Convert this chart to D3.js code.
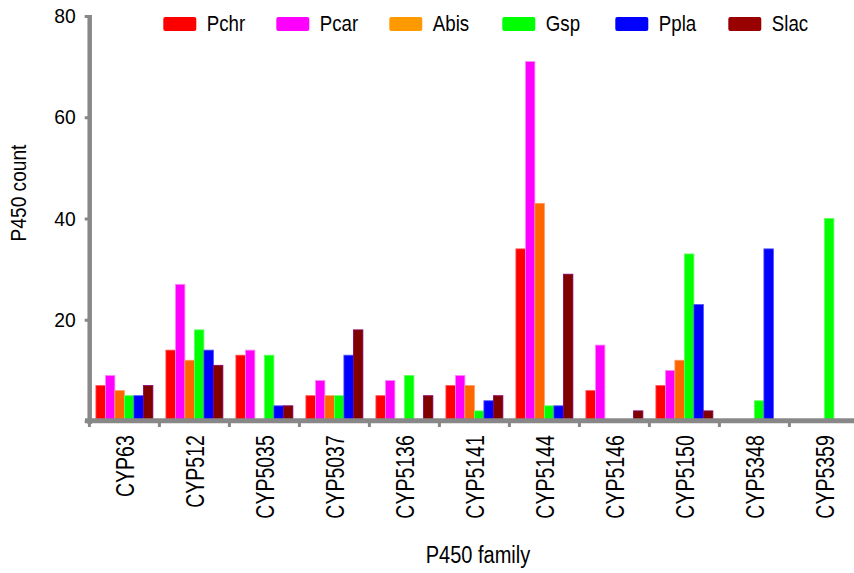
<!DOCTYPE html>
<html>
<head>
<meta charset="utf-8">
<script src="https://cdn.jsdelivr.net/npm/d3@7"></script>
<style>
  html, body { margin: 0; padding: 0; background: #fff; }
  svg { display: block; }
  text { font-family: "Liberation Sans", Arial, sans-serif; fill: #000; }
</style>
</head>
<body>
<script>
const categories = ["CYP63","CYP512","CYP5035","CYP5037","CYP5136","CYP5141","CYP5144","CYP5146","CYP5150","CYP5348","CYP5359"];
const seriesNames = ["Pchr","Pcar","Abis","Gsp","Ppla","Slac"];
const Pchr = [7,14,13,5,5,7,34,6,7,0,0];
const Pcar = [9,27,14,8,8,9,71,15,10,0,0];
const Abis = [6,12,0,5,0,7,43,0,12,0,0];
const Gsp  = [5,18,13,5,9,2,3,0,33,4,40];
const Ppla = [5,14,3,13,0,4,3,0,23,34,0];
const Slac = [7,11,3,18,5,5,29,2,2,0,0];
const yTicks = [0,20,40,60,80];
const yTickLabels = ["","20","40","60","80"];
const barColors    = ["#ff0000","#ff00ff","#ff6600","#00ff00","#0000ff","#800000"];
const barStrokes   = ["#ff5050","#ff88ff","#ff9a60","#60ff60","#5050ff","#880070"];
const legendColors = ["#ff0000","#ff00ff","#ff9900","#00ff00","#0000ff","#990000"];
const yTitle = "P450 count";
const xTitle = "P450 family";

const values = [Pchr, Pcar, Abis, Gsp, Ppla, Slac];

const W = 854, H = 573;
const svg = d3.select("body").append("svg").attr("width", W).attr("height", H);
svg.append("rect").attr("width", W).attr("height", H).attr("fill", "#fff");

const x0 = d3.scaleBand().domain(categories).range([89.4, 89.4 + 70 * categories.length]).padding(0);
const bw = x0.bandwidth();
const x1 = d3.scaleBand().domain(seriesNames).range([bw * 0.093, bw * 0.907]).padding(0);
const y = d3.scaleLinear().domain([0, 80]).range([421, 16]);

const grey = "#888888";

// bars
const groups = svg.append("g").selectAll("g").data(categories).join("g")
  .attr("transform", d => `translate(${x0(d)},0)`);
groups.selectAll("rect")
  .data((c, i) => seriesNames.map((s, k) => ({ s, k, v: values[k][i] })).filter(d => d.v > 0))
  .join("rect")
  .attr("x", d => x1(d.s))
  .attr("width", x1.bandwidth())
  .attr("y", d => y(d.v))
  .attr("height", d => y(0) - y(d.v))
  .attr("fill", d => barColors[d.k])
  .attr("stroke", d => barStrokes[d.k])
  .attr("stroke-width", 0.8);

// y axis
const yAxis = svg.append("g").attr("transform", "translate(89.7,0)")
  .call(d3.axisLeft(y).tickValues(yTicks).tickFormat((d, i) => yTickLabels[i]).tickSize(5).tickPadding(0));
yAxis.select(".domain").remove();
yAxis.selectAll(".tick line").attr("stroke", grey).attr("stroke-width", 3);
yAxis.selectAll(".tick text").attr("font-size", 21)
  .attr("x", null).attr("dy", null)
  .attr("transform", "translate(-14,6.5) scale(0.92,1)");
svg.append("line").attr("x1", 89.7).attr("x2", 89.7).attr("y1", 15).attr("y2", 424)
  .attr("stroke", grey).attr("stroke-width", 4.5);

// x axis
const xAxis = svg.append("g").attr("transform", "translate(0,420.7)")
  .call(d3.axisBottom(x0).tickSize(0).tickPadding(0));
xAxis.select(".domain").remove();
xAxis.selectAll(".tick text")
  .attr("font-size", 25)
  .attr("text-anchor", "end")
  .attr("transform", "translate(9.5,14.5) rotate(-90) scale(0.78,1)")
  .attr("dy", 0).attr("y", 0).attr("x", 0);
svg.append("g").selectAll("line").data(categories).join("line")
  .attr("x1", d => x0(d)).attr("x2", d => x0(d))
  .attr("y1", 421).attr("y2", 427)
  .attr("stroke", grey).attr("stroke-width", 3);
svg.append("line").attr("x1", 85).attr("x2", W).attr("y1", 420.7).attr("y2", 420.7)
  .attr("stroke", grey).attr("stroke-width", 5);

// titles
svg.append("text").attr("transform", "translate(26,193) rotate(-90) scale(0.87,1)")
  .attr("text-anchor", "middle").attr("font-size", 22).text(yTitle);
svg.append("text").attr("transform", "translate(478,563) scale(0.87,1)")
  .attr("text-anchor", "middle").attr("font-size", 23).text(xTitle);

// legend
const leg = svg.append("g").selectAll("g").data(seriesNames).join("g")
  .attr("transform", (d, i) => `translate(${163.3 + 113 * i},17)`);
leg.append("rect").attr("width", 33).attr("height", 14).attr("rx", 2)
  .attr("fill", (d, i) => legendColors[i]);
leg.append("text").attr("transform", "translate(43.5,13.5) scale(0.85,1)")
  .attr("font-size", 22).text(d => d);
</script>
</body>
</html>
